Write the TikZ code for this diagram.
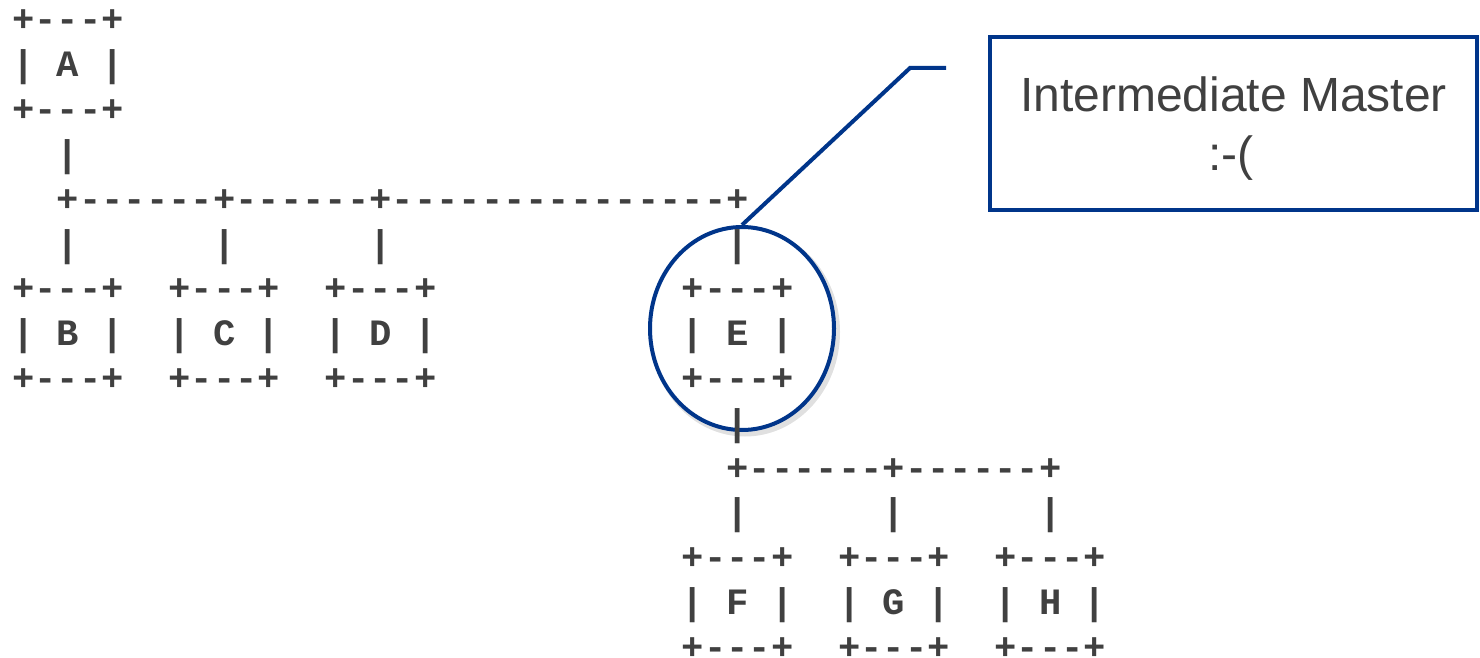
\documentclass[tikz,border=0pt]{standalone}
\usepackage{fontspec}
\setmonofont{Liberation Mono}
\newfontfamily\calloutfont{Liberation Sans}
\usetikzlibrary{shapes.geometric}
\definecolor{asciigrey}{RGB}{64,64,64}
\definecolor{calloutblue}{RGB}{0,53,138}
\tikzset{
  asc/.style={anchor=base west, inner sep=0pt, outer sep=0pt, text=asciigrey,
    font=\fontsize{37.2pt}{44.8pt}\selectfont\ttfamily\bfseries},
  calltext/.style={anchor=base, inner sep=0pt, text=asciigrey,
    font=\fontsize{48pt}{58pt}\selectfont\calloutfont},
  blueline/.style={draw=calloutblue, line width=4pt},
}
\newcommand{\ascAt}[4]{\node[asc] (#1) at ({12.3+22.32*#2},{32+44.8*#3}) {#4};}
\begin{document}
\begin{tikzpicture}[x=1pt,y=-1pt]
\useasboundingbox (0,0) rectangle (1480,658);
% ellipse around E (drawn first, with a faint shadow)
\draw[black!35, opacity=0.35, line width=6pt] (745,332) ellipse [x radius=92, y radius=101.5];
\node[ellipse, draw=calloutblue, line width=4pt, fill=white, minimum width=184pt, minimum height=203pt, inner sep=0pt] (ell) at (742,328.5) {};
% ASCII tree
\ascAt{a0}{0}{0}{+---+}
\ascAt{a1}{0}{1}{|\ A\ |}
\ascAt{a2}{0}{2}{+---+}
\ascAt{l3}{2}{3}{|}
\ascAt{l4}{2}{4}{+------+------+---------------+}
\ascAt{l5a}{2}{5}{|}
\ascAt{l5b}{9}{5}{|}
\ascAt{l5c}{16}{5}{|}
\ascAt{l5d}{32}{5}{|}
\ascAt{b0}{0}{6}{+---+}
\ascAt{b1}{0}{7}{|\ B\ |}
\ascAt{b2}{0}{8}{+---+}
\ascAt{c0}{7}{6}{+---+}
\ascAt{c1}{7}{7}{|\ C\ |}
\ascAt{c2}{7}{8}{+---+}
\ascAt{d0}{14}{6}{+---+}
\ascAt{d1}{14}{7}{|\ D\ |}
\ascAt{d2}{14}{8}{+---+}
\ascAt{e0}{30}{6}{+---+}
\ascAt{e1}{30}{7}{|\ E\ |}
\ascAt{e2}{30}{8}{+---+}
\ascAt{l9}{32}{9}{|}
\ascAt{l10}{32}{10}{+------+------+}
\ascAt{l11a}{32}{11}{|}
\ascAt{l11b}{39}{11}{|}
\ascAt{l11c}{46}{11}{|}
\ascAt{f0}{30}{12}{+---+}
\ascAt{f1}{30}{13}{|\ F\ |}
\ascAt{f2}{30}{14}{+---+}
\ascAt{g0}{37}{12}{+---+}
\ascAt{g1}{37}{13}{|\ G\ |}
\ascAt{g2}{37}{14}{+---+}
\ascAt{h0}{44}{12}{+---+}
\ascAt{h1}{44}{13}{|\ H\ |}
\ascAt{h2}{44}{14}{+---+}
% callout box
\node[draw=calloutblue, line width=4pt, minimum width=487pt, minimum height=173pt, inner sep=0pt] (cbox) at (1233.5,123.5) {};
\node[calltext] (t1) at (1233.5,112) {Intermediate Master};
\node[calltext] (t2) at (1231,170) {:-(};
% callout line
\coordinate (bend) at (910,68);
\coordinate (lend) at (946,68);
\draw[blueline] (ell.north) -- (bend) -- (lend);
\end{tikzpicture}
\end{document}
